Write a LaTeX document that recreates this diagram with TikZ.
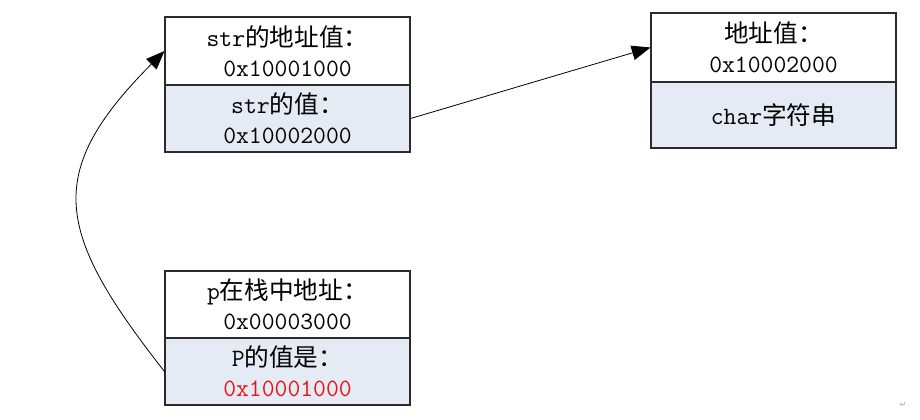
\documentclass[tikz,border=0pt]{standalone}
\usepackage{fontspec}
\newfontfamily\cjkf{Noto Sans CJK SC}
\newfontfamily\symf{DejaVu Sans}
\newcommand\zh[1]{{\cjkf\fontsize{18.5}{22.5}\selectfont #1}}
\usetikzlibrary{arrows.meta}
\definecolor{cellblue}{HTML}{E4EBF5}
\definecolor{edgegray}{HTML}{2B2B2B}
\definecolor{redtxt}{HTML}{E8141B}
\begin{document}
\begin{tikzpicture}[x=0.75pt,y=-0.75pt,
  cell/.style={draw=edgegray, line width=0.8pt, minimum width=183.75pt, inner sep=0pt, align=center, font=\ttfamily\fontsize{18.7}{22.5}\selectfont},
  whitecell/.style={cell, fill=white},
  bluecell/.style={cell, fill=cellblue},
  link/.style={-{Triangle[length=14pt,width=11pt]}, line width=0.6pt, black}]
\useasboundingbox (0,0) rectangle (920,419);
% box 1
\node[whitecell, minimum height=51pt] (s1top) at (287.5,51) {str\zh{的地址值：}\\0x10001000};
\node[bluecell, minimum height=50.25pt] (s1bot) at (287.5,118.5) {str\zh{的值：}\\0x10002000};
% box 2
\node[whitecell, minimum height=51.75pt] (s2top) at (773.5,47.5) {\zh{地址值：}\\0x10002000};
\node[bluecell, minimum height=49.5pt] (s2bot) at (773.5,115) {char\zh{字符串}};
% box 3
\node[whitecell, minimum height=50.25pt] (s3top) at (287.5,304.5) {p\zh{在栈中地址：}\\0x00003000};
\node[bluecell, minimum height=50.25pt] (s3bot) at (287.5,371.5) {P\zh{的值是：}\\\textcolor{redtxt}{0x10001000}};
% connectors
\draw[link] (s1bot.east) -- (s2top.west);
\draw[link] (s3bot.west) .. controls (55.5,232.5) and (42.6,173.4) .. (s1top.west);
% paragraph mark
\node[text=gray!70, font=\symf\fontsize{6}{7}\selectfont, inner sep=0pt] (mark) at (903,405) {↵};
\end{tikzpicture}
\end{document}
